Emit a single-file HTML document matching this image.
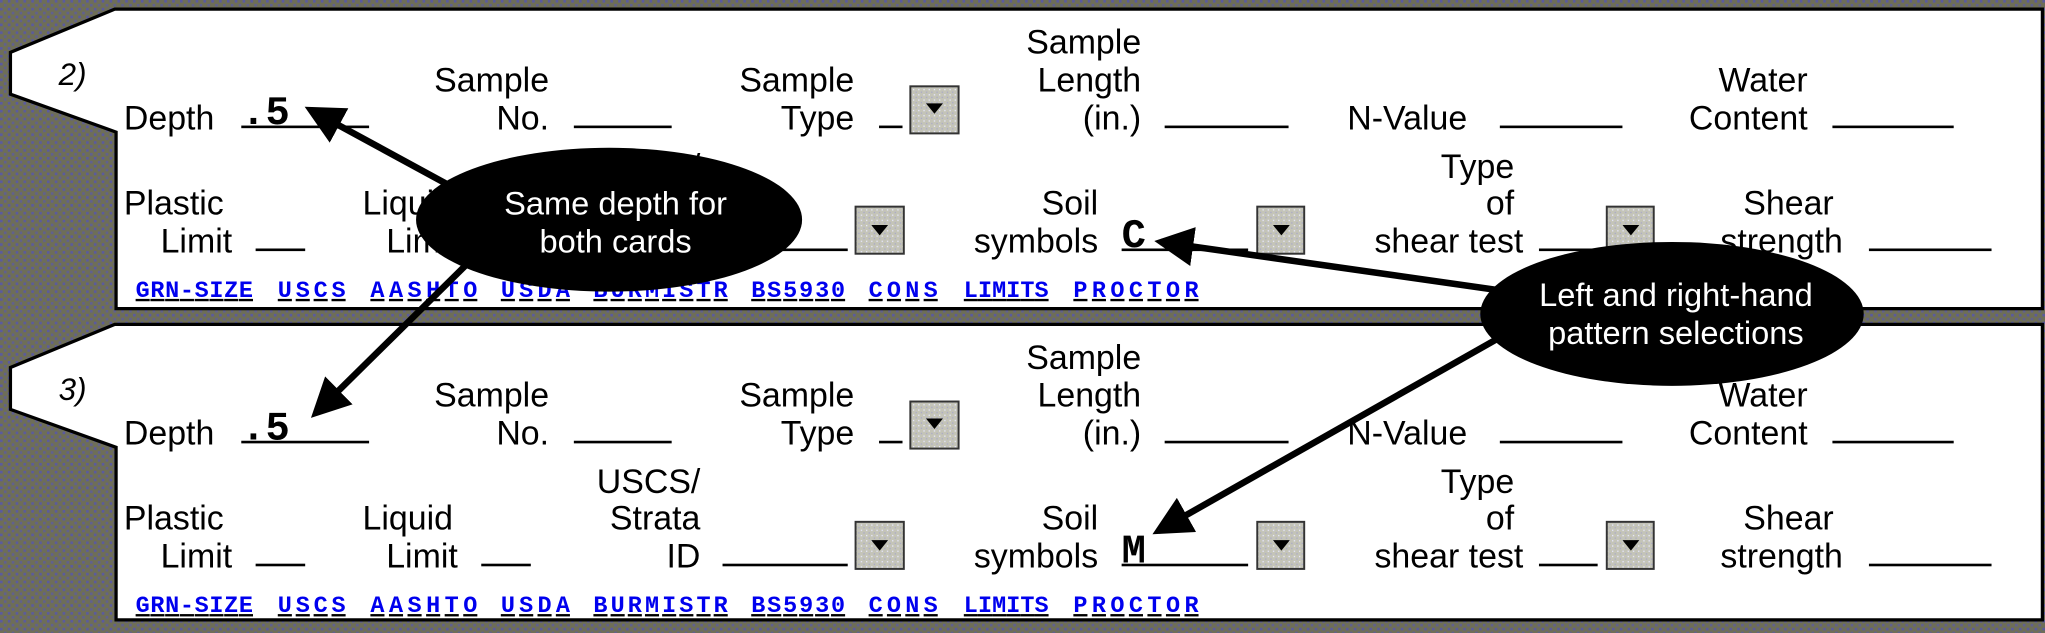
<!DOCTYPE html>
<html><head><meta charset="utf-8"><style>
html,body{margin:0;padding:0;background:#6b6b68;}
svg{display:block}
text{font-family:"Liberation Sans",Arial,sans-serif;font-size:26px;fill:#000}
.r{text-anchor:end}
.mono{font-family:"Liberation Mono",monospace;font-weight:bold;font-size:31px}
.lk{font-family:"Liberation Mono",monospace;font-weight:bold;font-size:18px;fill:#0000ee}
.w{fill:#fff;text-anchor:middle;font-size:25px}
</style></head><body>
<svg width="2045" height="633" viewBox="0 0 1568 484" preserveAspectRatio="none" xmlns="http://www.w3.org/2000/svg">
<defs>
<pattern id="bg" width="6" height="6" patternUnits="userSpaceOnUse">
<rect width="6" height="6" fill="#6e6e58"/>
<rect x="0" y="0" width="2" height="2" fill="#5a5aa0"/>
<rect x="3" y="3" width="2" height="2" fill="#606090"/>
</pattern>
<pattern id="btn" width="4" height="4" patternUnits="userSpaceOnUse">
<rect width="4" height="4" fill="#c4c4b8"/>
<rect width="1" height="1" fill="#e8e8ff"/>
<rect x="2" y="2" width="1" height="1" fill="#a8a8c8"/>
</pattern>
<marker id="ah" markerWidth="6" markerHeight="6" refX="5" refY="3" orient="auto" markerUnits="strokeWidth">
<path d="M0,0 L6,3 L0,6 Z" fill="#000"/>
</marker>
</defs>
<rect width="1568" height="484" fill="url(#bg)"/>

<polygon points="88,7 1566,7 1566,236 89,236 89,101 8,72 8,40" fill="#fff" stroke="#000" stroke-width="2.5"/>
<polygon points="88,248 1566,248 1566,474 89,474 89,342 8,313 8,281" fill="#fff" stroke="#000" stroke-width="2.5"/>

<g>
<text x="45" y="65" font-style="italic" style="font-size:24px">2)</text>
<text x="95" y="99">Depth</text>
<text x="185" y="95" class="mono">.5</text>
<rect x="185" y="96" width="98" height="2"/>
<text x="421" y="70" class="r">Sample</text>
<text x="421" y="99" class="r">No.</text>
<rect x="440" y="96" width="75" height="2"/>
<text x="655" y="70" class="r">Sample</text>
<text x="655" y="99" class="r">Type</text>
<rect x="674" y="96" width="18" height="2"/>
<rect x="698" y="66" width="37" height="36" fill="url(#btn)" stroke="#333" stroke-width="1.5"/><path d="M710,79 L723,79 L716.5,87 Z"/>
<text x="875" y="41" class="r">Sample</text>
<text x="875" y="70" class="r">Length</text>
<text x="875" y="99" class="r">(in.)</text>
<rect x="893" y="96" width="95" height="2"/>
<text x="1033" y="99">N-Value</text>
<rect x="1150" y="96" width="94" height="2"/>
<text x="1386" y="70" class="r">Water</text>
<text x="1386" y="99" class="r">Content</text>
<rect x="1405" y="96" width="93" height="2"/>
<text x="95" y="164">Plastic</text>
<text x="178" y="193" class="r">Limit</text>
<rect x="196" y="190" width="38" height="2"/>
<text x="278" y="164">Liquid</text>
<text x="351" y="193" class="r">Limit</text>
<text x="537" y="136" class="r">USCS/</text>
<text x="537" y="164" class="r">Strata</text>
<text x="537" y="193" class="r">ID</text>
<rect x="554" y="190" width="96" height="2"/>
<rect x="656" y="158" width="37" height="36" fill="url(#btn)" stroke="#333" stroke-width="1.5"/><path d="M668,172 L681,172 L674.5,180 Z"/>
<text x="842" y="164" class="r">Soil</text>
<text x="842" y="193" class="r">symbols</text>
<text x="860" y="189" class="mono">C</text>
<rect x="860" y="190" width="97" height="2"/>
<rect x="964" y="158" width="36" height="36" fill="url(#btn)" stroke="#333" stroke-width="1.5"/><path d="M976,172 L989,172 L982.5,180 Z"/>
<text x="1161" y="136" class="r">Type</text>
<text x="1161" y="164" class="r">of</text>
<text x="1168" y="193" class="r">shear test</text>
<rect x="1180" y="190" width="45" height="2"/>
<rect x="1232" y="158" width="36" height="36" fill="url(#btn)" stroke="#333" stroke-width="1.5"/><path d="M1244,172 L1257,172 L1250.5,180 Z"/>
<text x="1406" y="164" class="r">Shear</text>
<text x="1413" y="193" class="r">strength</text>
<rect x="1433" y="190" width="94" height="2"/>
<g text-decoration="underline">
<text x="104" y="227" class="lk" textLength="90">GRN-SIZE</text>
<text x="213" y="227" class="lk" textLength="52">USCS</text>
<text x="284" y="227" class="lk" textLength="82">AASHTO</text>
<text x="384" y="227" class="lk" textLength="53">USDA</text>
<text x="455" y="227" class="lk" textLength="103">BURMISTR</text>
<text x="576" y="227" class="lk" textLength="72">BS5930</text>
<text x="666" y="227" class="lk" textLength="53">CONS</text>
<text x="739" y="227" class="lk" textLength="65">LIMITS</text>
<text x="823" y="227" class="lk" textLength="96">PROCTOR</text>
</g>
</g>

<g transform="translate(0,241)">
<text x="45" y="65" font-style="italic" style="font-size:24px">3)</text>
<text x="95" y="99">Depth</text>
<text x="185" y="95" class="mono">.5</text>
<rect x="185" y="96" width="98" height="2"/>
<text x="421" y="70" class="r">Sample</text>
<text x="421" y="99" class="r">No.</text>
<rect x="440" y="96" width="75" height="2"/>
<text x="655" y="70" class="r">Sample</text>
<text x="655" y="99" class="r">Type</text>
<rect x="674" y="96" width="18" height="2"/>
<rect x="698" y="66" width="37" height="36" fill="url(#btn)" stroke="#333" stroke-width="1.5"/><path d="M710,79 L723,79 L716.5,87 Z"/>
<text x="875" y="41" class="r">Sample</text>
<text x="875" y="70" class="r">Length</text>
<text x="875" y="99" class="r">(in.)</text>
<rect x="893" y="96" width="95" height="2"/>
<text x="1033" y="99">N-Value</text>
<rect x="1150" y="96" width="94" height="2"/>
<text x="1386" y="70" class="r">Water</text>
<text x="1386" y="99" class="r">Content</text>
<rect x="1405" y="96" width="93" height="2"/>
<text x="95" y="164">Plastic</text>
<text x="178" y="193" class="r">Limit</text>
<rect x="196" y="190" width="38" height="2"/>
<text x="278" y="164">Liquid</text>
<text x="351" y="193" class="r">Limit</text>
<rect x="369" y="190" width="38" height="2"/>
<text x="537" y="136" class="r">USCS/</text>
<text x="537" y="164" class="r">Strata</text>
<text x="537" y="193" class="r">ID</text>
<rect x="554" y="190" width="96" height="2"/>
<rect x="656" y="158" width="37" height="36" fill="url(#btn)" stroke="#333" stroke-width="1.5"/><path d="M668,172 L681,172 L674.5,180 Z"/>
<text x="842" y="164" class="r">Soil</text>
<text x="842" y="193" class="r">symbols</text>
<text x="860" y="189" class="mono">M</text>
<rect x="860" y="190" width="97" height="2"/>
<rect x="964" y="158" width="36" height="36" fill="url(#btn)" stroke="#333" stroke-width="1.5"/><path d="M976,172 L989,172 L982.5,180 Z"/>
<text x="1161" y="136" class="r">Type</text>
<text x="1161" y="164" class="r">of</text>
<text x="1168" y="193" class="r">shear test</text>
<rect x="1180" y="190" width="45" height="2"/>
<rect x="1232" y="158" width="36" height="36" fill="url(#btn)" stroke="#333" stroke-width="1.5"/><path d="M1244,172 L1257,172 L1250.5,180 Z"/>
<text x="1406" y="164" class="r">Shear</text>
<text x="1413" y="193" class="r">strength</text>
<rect x="1433" y="190" width="94" height="2"/>
<g text-decoration="underline">
<text x="104" y="227" class="lk" textLength="90">GRN-SIZE</text>
<text x="213" y="227" class="lk" textLength="52">USCS</text>
<text x="284" y="227" class="lk" textLength="82">AASHTO</text>
<text x="384" y="227" class="lk" textLength="53">USDA</text>
<text x="455" y="227" class="lk" textLength="103">BURMISTR</text>
<text x="576" y="227" class="lk" textLength="72">BS5930</text>
<text x="666" y="227" class="lk" textLength="53">CONS</text>
<text x="739" y="227" class="lk" textLength="65">LIMITS</text>
<text x="823" y="227" class="lk" textLength="96">PROCTOR</text>
</g>
</g>

<g stroke="#000" stroke-width="5" fill="none">
<line x1="345" y1="142" x2="238" y2="84" marker-end="url(#ah)"/>
<line x1="360" y1="200" x2="242" y2="316" marker-end="url(#ah)"/>
<line x1="1150" y1="222" x2="890" y2="185" marker-end="url(#ah)"/>
<line x1="1150" y1="258" x2="888" y2="406" marker-end="url(#ah)"/>
</g>

<ellipse cx="467" cy="168" rx="148" ry="55" fill="#000"/>
<text x="472" y="164" class="w">Same depth for</text>
<text x="472" y="193" class="w">both cards</text>
<ellipse cx="1282" cy="240" rx="147" ry="55" fill="#000"/>
<text x="1285" y="234" class="w">Left and right-hand</text>
<text x="1285" y="263" class="w">pattern selections</text>
</svg>
</body></html>
